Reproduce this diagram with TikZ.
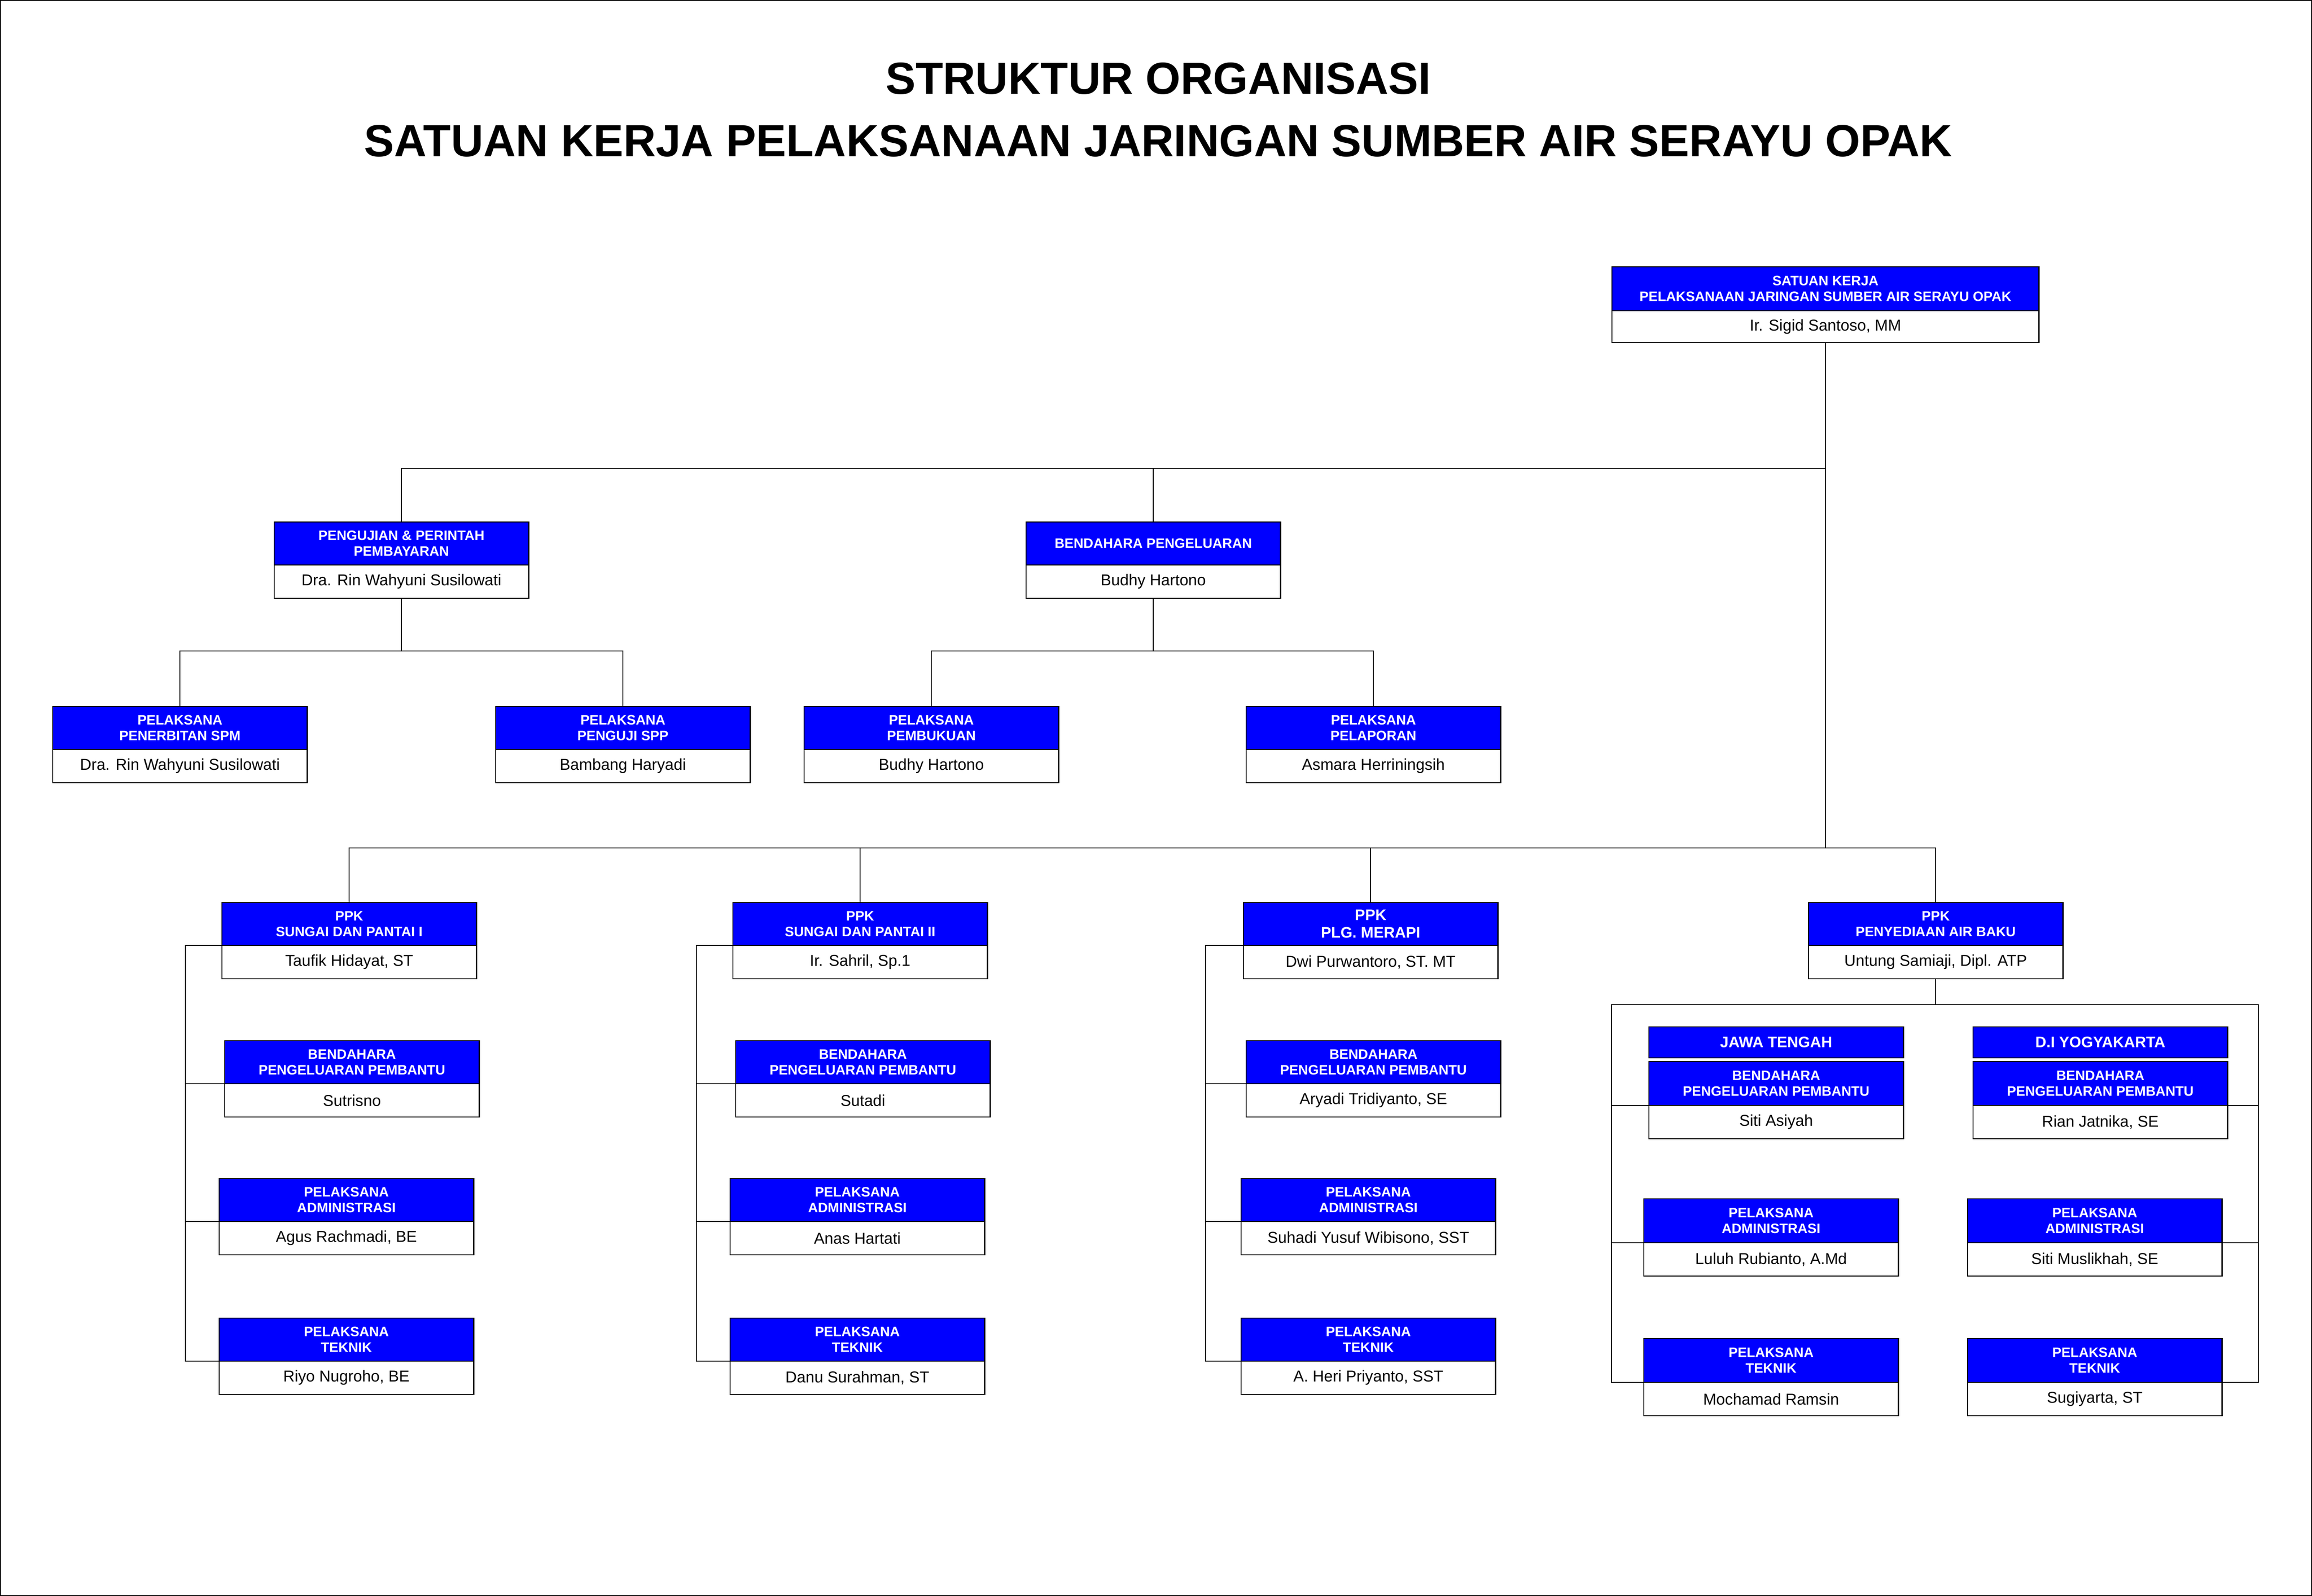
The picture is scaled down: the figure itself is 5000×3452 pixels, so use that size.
\documentclass[tikz,border=0pt]{standalone}
\usepackage{fontspec}
\setmainfont{Liberation Sans}
\usepackage{tikz}

\begin{document}
\begin{tikzpicture}[x=0.01cm,y=-0.01cm,line width=0.7pt]
                \tikzstyle{jabatan}=[draw=black,fill=blue,text=white,anchor=north west,align=center,minimum width=5.50cm,minimum height=0.93cm,inner sep=1pt,outer sep=0pt,font=\bfseries\fontsize{8.4}{9.7}\selectfont]
                \tikzstyle{nama}=[draw=black,fill=white,anchor=north,minimum width=5.50cm,minimum height=0.72cm,inner sep=1pt,outer sep=0pt,font=\fontsize{9.7}{11}\selectfont]
                \tikzstyle{judul}=[anchor=base,inner sep=0pt,font=\bfseries\fontsize{27.7}{33}\selectfont]
                \useasboundingbox (0,0) rectangle (5000,3452);
                \draw[line width=0.6pt] (1,1) rectangle (4999,3451);
                        \node[judul] (T-1) at (2505,204){STRUKTUR ORGANISASI};
                        \node[judul] (T-2) at (2505,339){SATUAN KERJA PELAKSANAAN JARINGAN SUMBER AIR SERAYU OPAK};

                        \node[jabatan,minimum width=9.23cm,minimum height=0.95cm] (J-0) at (3486,577){SATUAN KERJA\\PELAKSANAAN JARINGAN SUMBER AIR SERAYU OPAK};
                        \node[nama,minimum width=9.23cm,minimum height=0.69cm] (N-0) at (J-0.south){Ir. Sigid Santoso, MM};

                        \node[jabatan] (J-1) at (593,1129){PENGUJIAN \& PERINTAH\\PEMBAYARAN};
                        \node[nama] (N-1) at (J-1.south){Dra. Rin Wahyuni Susilowati};
                        \node[jabatan] (J-2) at (2219,1129){BENDAHARA PENGELUARAN};
                        \node[nama] (N-2) at (J-2.south){Budhy Hartono};

                        \node[jabatan] (J-3) at (114,1528){PELAKSANA\\PENERBITAN SPM};
                        \node[nama] (N-3) at (J-3.south){Dra. Rin Wahyuni Susilowati};
                        \node[jabatan] (J-4) at (1072,1528){PELAKSANA\\PENGUJI SPP};
                        \node[nama] (N-4) at (J-4.south){Bambang Haryadi};
                        \node[jabatan] (J-5) at (1739,1528){PELAKSANA\\PEMBUKUAN};
                        \node[nama] (N-5) at (J-5.south){Budhy Hartono};
                        \node[jabatan] (J-6) at (2695,1528){PELAKSANA\\PELAPORAN};
                        \node[nama] (N-6) at (J-6.south){Asmara Herriningsih};

                        \node[jabatan] (J-7) at (480,1952){PPK\\SUNGAI DAN PANTAI I};
                        \node[nama] (N-7) at (J-7.south){Taufik Hidayat, ST};
                        \node[jabatan] (J-8) at (1585,1952){PPK\\SUNGAI DAN PANTAI II};
                        \node[nama] (N-8) at (J-8.south){Ir. Sahril, Sp.1};
                        \node[jabatan,font=\bfseries\fontsize{9.4}{10.9}\selectfont] (J-9) at (2689,1952){PPK\\PLG. MERAPI};
                        \node[nama] (N-9) at (J-9.south){Dwi Purwantoro, ST. MT};
                        \node[jabatan] (J-10) at (3911,1952){PPK\\PENYEDIAAN AIR BAKU};
                        \node[nama] (N-10) at (J-10.south){Untung Samiaji, Dipl. ATP};

                        \node[jabatan] (J-11) at (486,2251){BENDAHARA\\PENGELUARAN PEMBANTU};
                        \node[nama] (N-11) at (J-11.south){Sutrisno};
                        \node[jabatan] (J-12) at (474,2549){PELAKSANA\\ADMINISTRASI};
                        \node[nama] (N-12) at (J-12.south){Agus Rachmadi, BE};
                        \node[jabatan] (J-13) at (474,2851){PELAKSANA\\TEKNIK};
                        \node[nama] (N-13) at (J-13.south){Riyo Nugroho, BE};

                        \node[jabatan] (J-14) at (1591,2251){BENDAHARA\\PENGELUARAN PEMBANTU};
                        \node[nama] (N-14) at (J-14.south){Sutadi};
                        \node[jabatan] (J-15) at (1579,2549){PELAKSANA\\ADMINISTRASI};
                        \node[nama] (N-15) at (J-15.south){Anas Hartati};
                        \node[jabatan] (J-16) at (1579,2851){PELAKSANA\\TEKNIK};
                        \node[nama] (N-16) at (J-16.south){Danu Surahman, ST};

                        \node[jabatan] (J-17) at (2695,2251){BENDAHARA\\PENGELUARAN PEMBANTU};
                        \node[nama] (N-17) at (J-17.south){Aryadi Tridiyanto, SE};
                        \node[jabatan] (J-18) at (2684,2549){PELAKSANA\\ADMINISTRASI};
                        \node[nama] (N-18) at (J-18.south){Suhadi Yusuf Wibisono, SST};
                        \node[jabatan] (J-19) at (2684,2851){PELAKSANA\\TEKNIK};
                        \node[nama] (N-19) at (J-19.south){A. Heri Priyanto, SST};

                        \node[jabatan,minimum height=0.67cm,font=\bfseries\fontsize{9.4}{10.9}\selectfont] (R-1) at (3566,2221){JAWA TENGAH};
                        \node[jabatan,minimum height=0.67cm,font=\bfseries\fontsize{9.4}{10.9}\selectfont] (R-2) at (4267,2221){D.I YOGYAKARTA};
                        \node[jabatan,minimum height=0.95cm] (J-20) at (3566,2296){BENDAHARA\\PENGELUARAN PEMBANTU};
                        \node[nama] (N-20) at (J-20.south){Siti Asiyah};
                        \node[jabatan,minimum height=0.95cm] (J-21) at (3555,2593){PELAKSANA\\ADMINISTRASI};
                        \node[nama] (N-21) at (J-21.south){Luluh Rubianto, A.Md};
                        \node[jabatan,minimum height=0.95cm] (J-22) at (3555,2895){PELAKSANA\\TEKNIK};
                        \node[nama] (N-22) at (J-22.south){Mochamad Ramsin};
                        \node[jabatan,minimum height=0.95cm] (J-23) at (4267,2296){BENDAHARA\\PENGELUARAN PEMBANTU};
                        \node[nama] (N-23) at (J-23.south){Rian Jatnika, SE};
                        \node[jabatan,minimum height=0.95cm] (J-24) at (4255,2593){PELAKSANA\\ADMINISTRASI};
                        \node[nama] (N-24) at (J-24.south){Siti Muslikhah, SE};
                        \node[jabatan,minimum height=0.95cm] (J-25) at (4255,2895){PELAKSANA\\TEKNIK};
                        \node[nama] (N-25) at (J-25.south){Sugiyarta, ST};

                        \coordinate (L-1) at (0,1013);
                        \coordinate (L-2) at (0,1408);
                        \coordinate (L-3) at (0,1834);
                        \coordinate (L-4) at (0,2173);
                        \coordinate (S-1) at (401,0);
                        \coordinate (S-2) at (1506,0);
                        \coordinate (S-3) at (2607,0);
                        \coordinate (S-4) at (3485,0);
                        \coordinate (S-5) at (4884,0);

                    \draw (N-0.south) -- (N-0.south |- L-3);
                    \foreach \to in {1, 2}
                        \draw (N-0.south |- L-1) -| (J-\to.north);
                    \foreach \from/\to in {1/3, 1/4, 2/5, 2/6}
                        \draw (N-\from.south) -- (N-\from.south |- L-2) -| (J-\to.north);
                    \foreach \to in {7, 8, 9, 10}
                        \draw (N-0.south |- L-3) -| (J-\to.north);
                    \foreach \from/\to/\s in {7/11/1, 7/12/1, 7/13/1, 8/14/2, 8/15/2, 8/16/2, 9/17/3, 9/18/3, 9/19/3}
                        \draw (J-\from.south west) -| (S-\s |- J-\to.south west) -- (J-\to.south west);
                    \draw (N-10.south) -- (N-10.south |- L-4);
                    \foreach \to in {20, 21, 22}
                        \draw (N-10.south |- L-4) -| (S-4 |- J-\to.south west) -- (J-\to.south west);
                    \foreach \to in {23, 24, 25}
                        \draw (N-10.south |- L-4) -| (S-5 |- J-\to.south east) -- (J-\to.south east);
            \end{tikzpicture}
\end{document}
